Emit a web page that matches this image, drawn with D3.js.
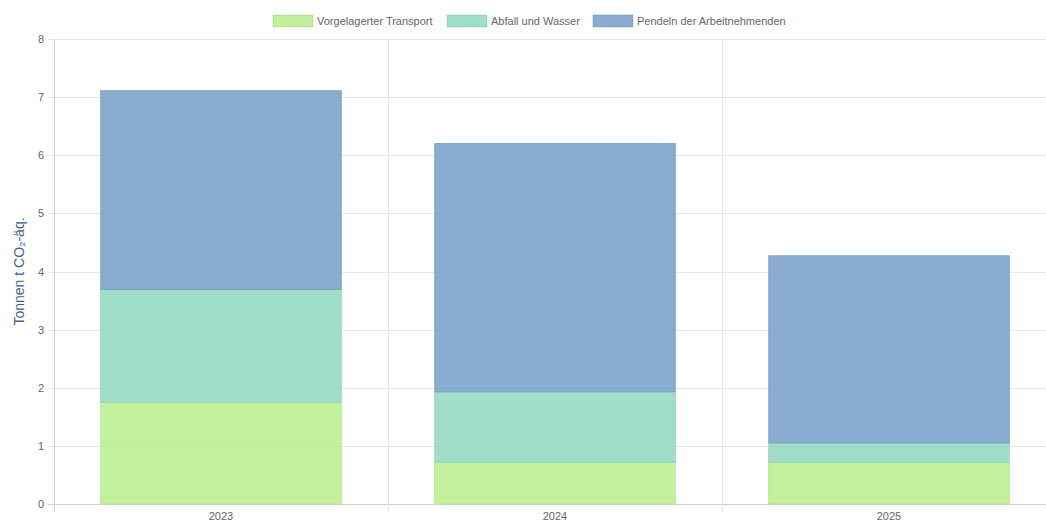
<!DOCTYPE html>
<html>
<head>
<meta charset="utf-8">
<script src="https://cdn.jsdelivr.net/npm/d3@7"></script>
<style>
  body { margin: 0; background: #fff; }
  svg { display: block; font-family: "Liberation Sans", Arial, sans-serif; }
</style>
</head>
<body>
<script>
// data
let years = ["2023", "2024", "2025"];
let transport = [1.75, 0.72, 0.72];
let abfall = [1.94, 1.21, 0.33];
let pendeln = [3.42, 4.27, 3.22];
let seriesNames = ["Vorgelagerter Transport", "Abfall und Wasser", "Pendeln der Arbeitnehmenden"];
let yTicks = [0, 1, 2, 3, 4, 5, 6, 7, 8];

let fills = ["rgba(180,236,132,0.8)", "rgba(137,214,187,0.8)", "rgba(109,151,196,0.8)"];
let strokes = ["#b3e68c", "#94d6bd", "#7fa3c9"];

let w = 1046, h = 525;
let margin = {left: 54, right: -10, top: 39, bottom: 21};

let rows = years.map((y, i) => ({year: y, t: transport[i], a: abfall[i], p: pendeln[i]}));
let keys = ["t", "a", "p"];
let stacked = d3.stack().keys(keys)(rows);

let svg = d3.select("body").append("svg").attr("width", w).attr("height", h);

let x = d3.scaleBand().domain(years).range([margin.left, w - margin.right]).paddingInner(0).paddingOuter(0);
let y = d3.scaleLinear().domain([0, 8]).range([h - margin.bottom, margin.top]);

// grid
let grid = svg.append("g");
grid.selectAll("line.h").data(yTicks).enter().append("line")
    .attr("x1", margin.left - 6).attr("x2", w)
    .attr("y1", d => Math.round(y(d)) + 0.5).attr("y2", d => Math.round(y(d)) + 0.5)
    .attr("stroke", d => d === 0 ? "#d0d0d0" : "#e8e8e8");
let bounds = [margin.left].concat(years.slice(1).map(d => x(d)));
grid.selectAll("line.v").data(bounds).enter().append("line")
    .attr("x1", d => Math.round(d) + 0.5).attr("x2", d => Math.round(d) + 0.5)
    .attr("y1", margin.top).attr("y2", h - margin.bottom + 8)
    .attr("stroke", (d, i) => i === 0 ? "#d0d0d0" : "#e8e8e8");

// bars
let barW = x.bandwidth() * 0.72;
svg.append("g").selectAll("g").data(stacked).enter().append("g")
    .each(function(s, si) {
      d3.select(this).selectAll("rect").data(s).enter().append("rect")
        .attr("x", d => x(d.data.year) + (x.bandwidth() - barW) / 2)
        .attr("width", barW)
        .attr("y", d => y(d[1]))
        .attr("height", d => y(d[0]) - y(d[1]))
        .attr("fill", fills[si])
        .attr("stroke", strokes[si])
        .attr("stroke-width", 1);
    });

// y ticks
svg.append("g").selectAll("text").data(yTicks).enter().append("text")
    .attr("x", margin.left - 10).attr("y", d => y(d) + 4)
    .attr("text-anchor", "end").attr("font-size", 11).attr("fill", "#666")
    .text(d => d);

// x ticks
svg.append("g").selectAll("text").data(years).enter().append("text")
    .attr("x", d => x(d) + x.bandwidth() / 2).attr("y", h - margin.bottom + 16)
    .attr("text-anchor", "middle").attr("font-size", 11).attr("fill", "#666")
    .text(d => d);

// y title
svg.append("text")
    .attr("transform", "translate(24," + ((margin.top + h - margin.bottom) / 2) + ") rotate(-90)")
    .attr("text-anchor", "middle").attr("font-size", 14).attr("fill", "#3f5f8f")
    .text("Tonnen t CO₂-äq.");

// legend
let legendX = [273, 447, 593];
let lg = svg.append("g").selectAll("g").data(seriesNames).enter().append("g")
    .attr("transform", (d, i) => "translate(" + legendX[i] + ",15)");
lg.append("rect").attr("x", 0.5).attr("y", 0.5).attr("width", 39).attr("height", 11)
    .attr("fill", (d, i) => fills[i]).attr("stroke", (d, i) => strokes[i]).attr("stroke-width", 1.5);
lg.append("text").attr("x", 44).attr("y", 10)
    .attr("font-size", 11).attr("fill", "#666").text(d => d);
</script>
</body>
</html>
